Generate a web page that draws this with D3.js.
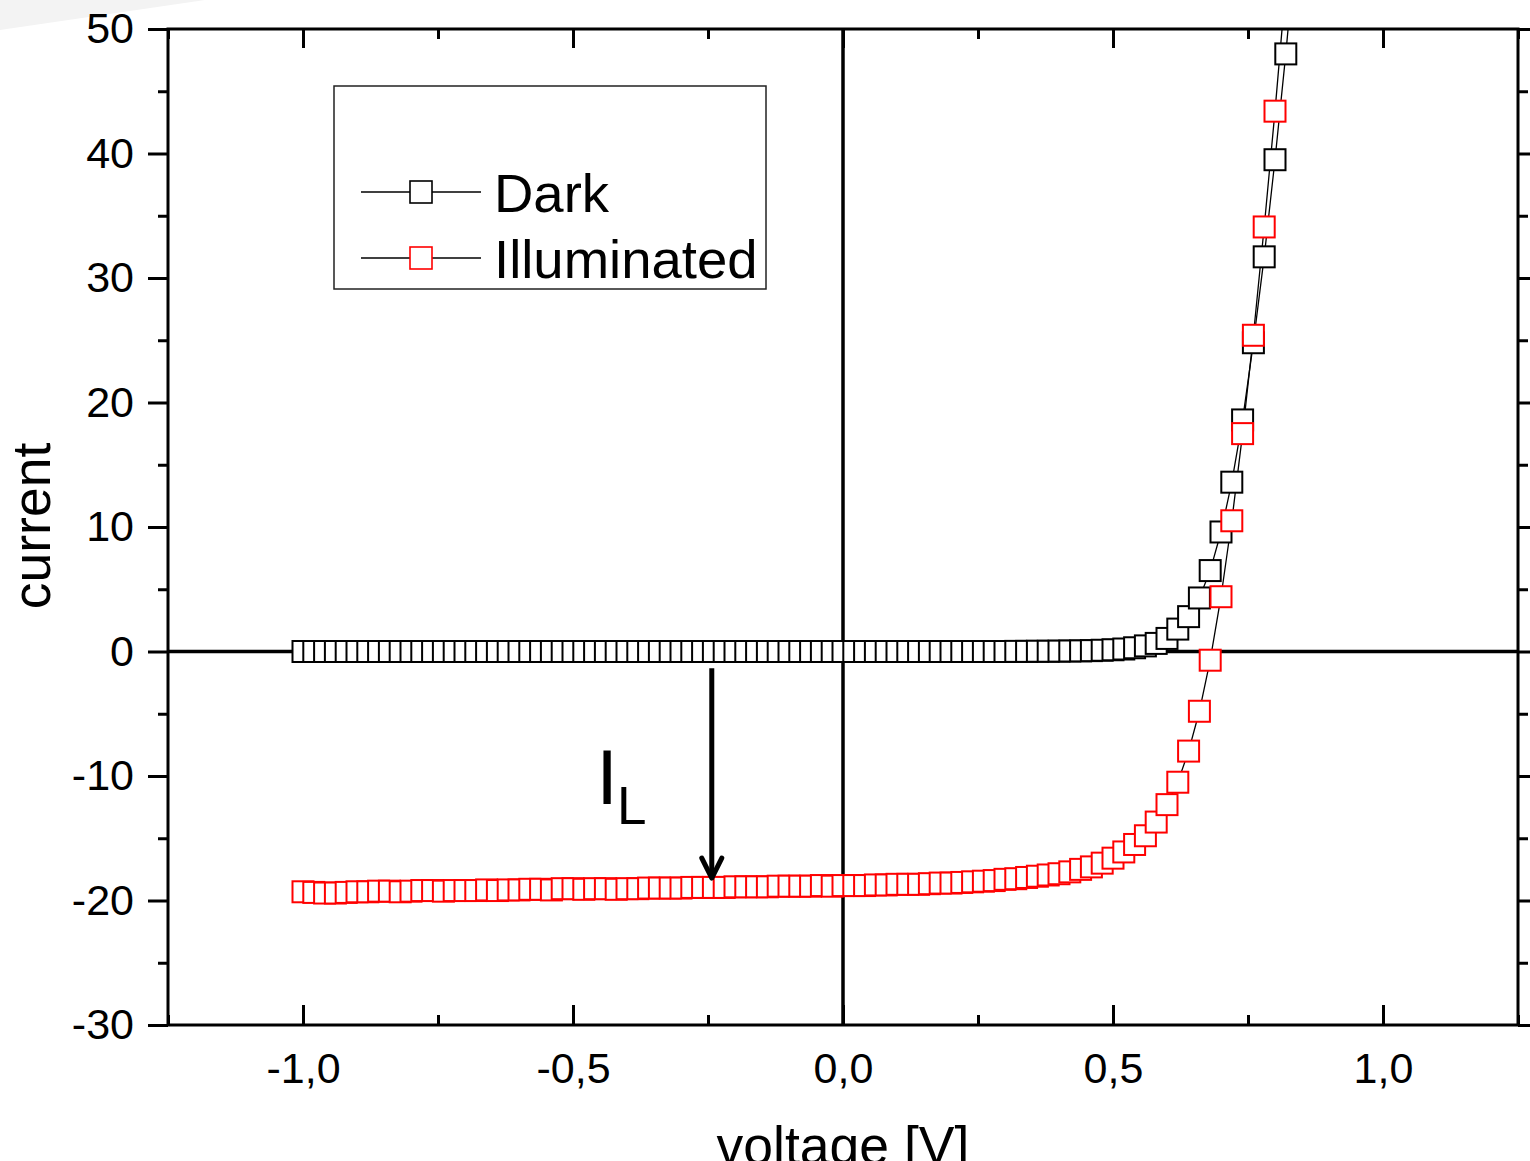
<!DOCTYPE html>
<html lang="en">
<head>
<meta charset="UTF-8">
<title>Dark vs Illuminated I-V</title>
<script src="https://d3js.org/d3.v7.min.js"></script>
<style>
  body { margin: 0; background: #fff; }
  svg { display: block; font-family: "Liberation Sans", Arial, sans-serif; }
</style>
</head>
<body>
<svg width="1530" height="1161"></svg>
<script>
// voltage steps of the sweep [V]
var voltage = [
  -1.00,-0.98,-0.96,-0.94,-0.92,-0.90,-0.88,-0.86,-0.84,-0.82,
  -0.80,-0.78,-0.76,-0.74,-0.72,-0.70,-0.68,-0.66,-0.64,-0.62,
  -0.60,-0.58,-0.56,-0.54,-0.52,-0.50,-0.48,-0.46,-0.44,-0.42,
  -0.40,-0.38,-0.36,-0.34,-0.32,-0.30,-0.28,-0.26,-0.24,-0.22,
  -0.20,-0.18,-0.16,-0.14,-0.12,-0.10,-0.08,-0.06,-0.04,-0.02,
   0.00, 0.02, 0.04, 0.06, 0.08, 0.10, 0.12, 0.14, 0.16, 0.18,
   0.20, 0.22, 0.24, 0.26, 0.28, 0.30, 0.32, 0.34, 0.36, 0.38,
   0.40, 0.42, 0.44, 0.46, 0.48, 0.50, 0.52, 0.54, 0.56, 0.58,
   0.60, 0.62, 0.64, 0.66, 0.68, 0.70, 0.72, 0.74, 0.76, 0.78,
   0.80, 0.82, 0.84
];

var darkCurrent = [
  0,0,0,0,0,0,0,0,0,0,
  0,0,0,0,0,0,0,0,0,0,
  0,0,0,0,0,0,0,0,0,0,
  0,0,0,0,0,0,0,0,0,0,
  0,0,0,0,0,0,0,0,0,0,
  0,0,0,0,0,0,0,0,0,0,
  0,0,0,0,0,0,0.01,0.01,0.02,0.02,
  0.03,0.04,0.05,0.07,0.1,0.14,0.2,0.3,0.45,0.65,
  1.05,1.8,2.8,4.3,6.5,9.6,13.6,18.6,24.8,31.7,
  39.5,48.0,57.5
];

var lightCurrent = [
  -19.3,-19.35,-19.4,-19.4,-19.35,-19.3,-19.3,-19.25,-19.25,-19.3,
  -19.25,-19.2,-19.2,-19.25,-19.2,-19.2,-19.2,-19.15,-19.2,-19.15,
  -19.15,-19.1,-19.1,-19.15,-19.05,-19.05,-19.1,-19.05,-19.05,-19.1,
  -19.05,-19.05,-19.0,-19.0,-19.0,-19.0,-18.95,-18.95,-18.95,-18.95,
  -18.9,-18.9,-18.9,-18.9,-18.85,-18.85,-18.85,-18.85,-18.8,-18.85,
  -18.8,-18.8,-18.8,-18.75,-18.75,-18.7,-18.7,-18.7,-18.65,-18.6,
  -18.6,-18.55,-18.5,-18.45,-18.4,-18.3,-18.25,-18.15,-18.05,-17.95,
  -17.85,-17.7,-17.5,-17.3,-17.0,-16.6,-16.1,-15.5,-14.8,-13.7,
  -12.3,-10.5,-8.0,-4.8,-0.7,4.4,10.5,17.5,25.4,34.1,
  43.4,53.5,64
];

var seriesNames = ["Dark", "Illuminated"];
var seriesColors = ["#000000", "#ff0000"];

var xTicks = [-1, -0.5, 0, 0.5, 1];
var xTickLabels = ["-1,0", "-0,5", "0,0", "0,5", "1,0"];
var xMinor = [-1.25, -0.75, -0.25, 0.25, 0.75, 1.25];
var yTicks = [-30, -20, -10, 0, 10, 20, 30, 40, 50];
var yTickLabels = ["-30", "-20", "-10", "0", "10", "20", "30", "40", "50"];
var yMinor = [-25, -15, -5, 5, 15, 25, 35, 45];

var svg = d3.select("svg"),
    margin = {top: 29, right: 12, bottom: 136, left: 168},
    width = +svg.attr("width") - margin.left - margin.right,
    height = +svg.attr("height") - margin.top - margin.bottom;

// faint grey wedge in the top-left corner of the original screenshot
svg.append("path")
    .attr("d", "M0,0L205,0L0,30Z")
    .attr("fill", "#f3f3f3");

var g = svg.append("g").attr("transform", "translate(" + margin.left + "," + margin.top + ")");

var x = d3.scaleLinear().domain([-1.25, 1.25]).range([0, width]);
var y = d3.scaleLinear().domain([-30, 50]).range([height, 0]);

var data = voltage.map(function(v, i) {
    return {v: v, dark: darkCurrent[i], light: lightCurrent[i]};
});

g.append("clipPath").attr("id", "clip")
  .append("rect").attr("width", width).attr("height", height);

// axes: left/right ticks outward, top/bottom ticks inward
function styleAxis(sel) {
    sel.select(".domain").remove();
    sel.selectAll("line").attr("stroke", "#000").attr("stroke-width", 3);
    sel.selectAll("text").attr("font-size", 43).attr("fill", "#000")
        .attr("font-family", "'Liberation Sans', Arial, sans-serif");
}

g.append("g")
    .call(d3.axisLeft(y).tickValues(yTicks).tickSize(20).tickPadding(14)
        .tickFormat(function(d, i) { return yTickLabels[i]; }))
    .call(styleAxis);
g.append("g")
    .call(d3.axisLeft(y).tickValues(yMinor).tickSize(10).tickFormat(""))
    .call(styleAxis);
g.append("g").attr("transform", "translate(" + width + ",0)")
    .call(d3.axisRight(y).tickValues(yTicks).tickSize(20).tickFormat(""))
    .call(styleAxis);
g.append("g").attr("transform", "translate(" + width + ",0)")
    .call(d3.axisRight(y).tickValues(yMinor).tickSize(10).tickFormat(""))
    .call(styleAxis);

g.append("g").attr("transform", "translate(0," + height + ")")
    .call(d3.axisBottom(x).tickValues(xTicks).tickSize(-20).tickPadding(27)
        .tickFormat(function(d, i) { return xTickLabels[i]; }))
    .call(styleAxis);
g.append("g").attr("transform", "translate(0," + height + ")")
    .call(d3.axisBottom(x).tickValues(xMinor).tickSize(-10).tickFormat(""))
    .call(styleAxis);
g.append("g")
    .call(d3.axisTop(x).tickValues(xTicks).tickSize(-19).tickFormat(""))
    .call(styleAxis);
g.append("g")
    .call(d3.axisTop(x).tickValues(xMinor).tickSize(-10).tickFormat(""))
    .call(styleAxis);

// zero lines
g.append("line")
    .attr("x1", 0).attr("x2", width)
    .attr("y1", y(0)).attr("y2", y(0))
    .attr("stroke", "#000").attr("stroke-width", 3.5);
g.append("line")
    .attr("x1", x(0)).attr("x2", x(0))
    .attr("y1", 0).attr("y2", height)
    .attr("stroke", "#000").attr("stroke-width", 3.5);

// frame
g.append("rect")
    .attr("width", width).attr("height", height)
    .attr("fill", "none").attr("stroke", "#000").attr("stroke-width", 3);

var plot = g.append("g").attr("clip-path", "url(#clip)");
var keys = ["dark", "light"];
var msize = 21;

keys.forEach(function(k) {
    plot.append("path")
        .datum(data)
        .attr("fill", "none")
        .attr("stroke", "#000")
        .attr("stroke-width", 1.3)
        .attr("d", d3.line()
            .x(function(d) { return x(d.v); })
            .y(function(d) { return y(d[k]); }));
});

keys.forEach(function(k, i) {
    plot.append("g")
        .selectAll("rect")
        .data(data)
        .enter().append("rect")
        .attr("x", function(d) { return x(d.v) - msize / 2; })
        .attr("y", function(d) { return y(d[k]) - msize / 2; })
        .attr("width", msize)
        .attr("height", msize)
        .attr("fill", "#fff")
        .attr("stroke", seriesColors[i])
        .attr("stroke-width", 2);
});

// I_L annotation arrow
var arrowX = x(-0.243), arrowTop = y(-1.35), arrowTip = y(-18.2);
g.append("line")
    .attr("x1", arrowX).attr("x2", arrowX)
    .attr("y1", arrowTop).attr("y2", arrowTip - 2)
    .attr("stroke", "#000").attr("stroke-width", 5);
g.append("path")
    .attr("d", "M" + (arrowX - 10) + "," + (arrowTip - 20) + "L" + arrowX + "," + arrowTip + "L" + (arrowX + 10) + "," + (arrowTip - 20))
    .attr("fill", "none").attr("stroke", "#000").attr("stroke-width", 5)
    .attr("stroke-linecap", "round").attr("stroke-linejoin", "round");

g.append("text")
    .attr("x", x(-0.457)).attr("y", y(-12.25))
    .attr("font-size", 78).text("I");
g.append("text")
    .attr("x", x(-0.4185)).attr("y", y(-13.85))
    .attr("font-size", 53).text("L");

// axis titles
svg.append("text")
    .attr("x", margin.left + x(0)).attr("y", 1164)
    .attr("text-anchor", "middle")
    .attr("font-size", 53.5)
    .text("voltage [V]");
svg.append("text")
    .attr("transform", "translate(50,526)rotate(-90)")
    .attr("text-anchor", "middle")
    .attr("font-size", 53.5)
    .text("current");

// legend
var legend = svg.append("g").attr("transform", "translate(334,86)");
legend.append("rect")
    .attr("width", 432).attr("height", 203)
    .attr("fill", "#fff").attr("stroke", "#222").attr("stroke-width", 1.5);

var item = legend.selectAll(".item")
    .data(seriesNames)
    .enter().append("g")
    .attr("transform", function(d, i) { return "translate(0," + (106 + i * 66) + ")"; });

item.append("line")
    .attr("x1", 27).attr("x2", 147)
    .attr("stroke", "#000").attr("stroke-width", 1.3);
item.append("rect")
    .attr("x", 76).attr("y", -11)
    .attr("width", 22).attr("height", 22)
    .attr("fill", "#fff")
    .attr("stroke", function(d, i) { return seriesColors[i]; })
    .attr("stroke-width", 1.6);
item.append("text")
    .attr("x", 160).attr("y", 20)
    .attr("font-size", 54.5)
    .text(function(d) { return d; });
</script>
</body>
</html>
